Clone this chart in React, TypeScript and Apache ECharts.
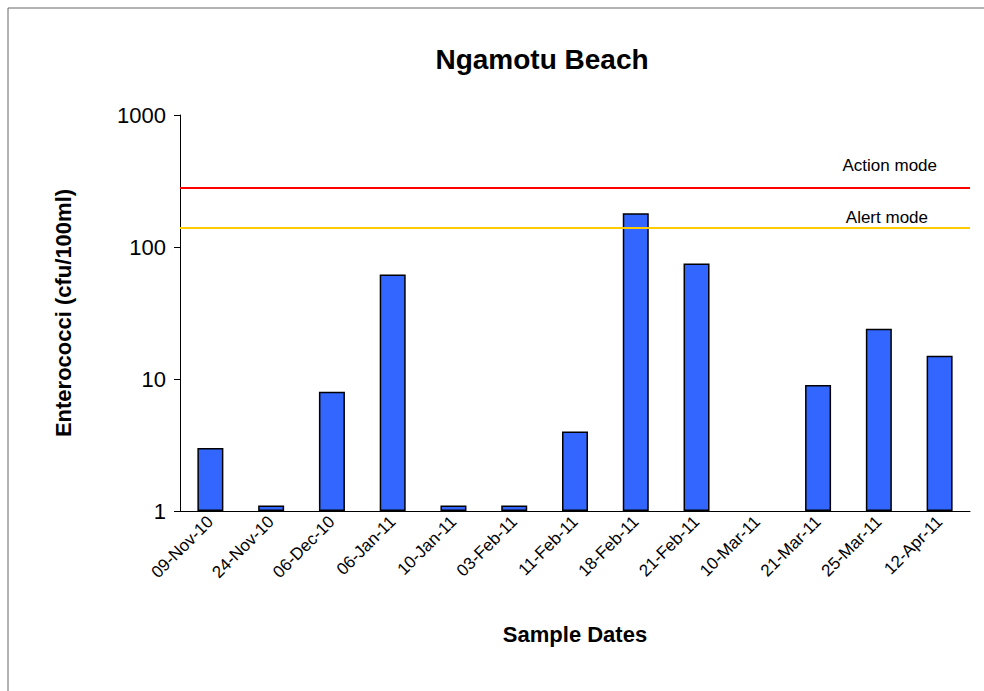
import React, { useEffect, useRef } from 'react'
import * as echarts from 'echarts'

const dates = ['09-Nov-10', '24-Nov-10', '06-Dec-10', '06-Jan-11', '10-Jan-11', '03-Feb-11', '11-Feb-11', '18-Feb-11', '21-Feb-11', '10-Mar-11', '21-Mar-11', '25-Mar-11', '12-Apr-11']
const counts = [3, 1.1, 8, 62, 1.1, 1.1, 4, 180, 75, null, 9, 24, 15]
const actionLevel = 280
const alertLevel = 140

const App = () => {
  const chartRef = useRef(null)

  useEffect(() => {
    const chart = echarts.init(chartRef.current, null, { renderer: 'svg' })
    const font = 'Liberation Sans, Arial, sans-serif'
    chart.setOption({
      animation: false,
      textStyle: { fontFamily: font },
      title: {
        text: 'Ngamotu Beach',
        left: 537,
        textAlign: 'center',
        top: 40,
        textStyle: { fontSize: 28, fontWeight: 'bold', color: '#000', fontFamily: font },
      },
      graphic: [
        { type: 'rect', shape: { x: 8, y: 8, width: 990, height: 690 }, style: { fill: 'none', stroke: '#666', lineWidth: 1 } },
      ],
      grid: { left: 180, right: 14, top: 115, bottom: 180 },
      xAxis: {
        type: 'category',
        data: dates,
        name: 'Sample Dates',
        nameLocation: 'middle',
        nameGap: 112,
        nameTextStyle: { fontSize: 22, fontWeight: 'bold', color: '#000' },
        axisLine: { lineStyle: { color: '#000' } },
        axisTick: { show: false },
        axisLabel: { rotate: 45, fontSize: 17, color: '#000', interval: 0 },
      },
      yAxis: {
        type: 'log',
        logBase: 10,
        min: 1,
        max: 1000,
        name: 'Enterococci (cfu/100ml)',
        nameLocation: 'middle',
        nameGap: 106,
        nameTextStyle: { fontSize: 22, fontWeight: 'bold', color: '#000' },
        axisLine: { show: true, lineStyle: { color: '#000' } },
        axisTick: { show: true, length: 6, inside: false, lineStyle: { color: '#000' } },
        axisLabel: { fontSize: 22, color: '#000', margin: 14, formatter: (v) => String(Math.round(v)) },
        splitLine: { show: false },
      },
      series: [
        {
          type: 'bar',
          data: counts,
          barWidth: 26,
          itemStyle: { color: '#3366ff', borderColor: '#000', borderWidth: 1.5 },
          markLine: {
            symbol: 'none',
            silent: true,
            label: { position: 'insideEndTop', fontSize: 17, color: '#000', distance: [33, 14] },
            data: [
              { yAxis: actionLevel, name: 'Action mode', lineStyle: { color: '#ff0000', width: 2, type: 'solid' }, label: { formatter: 'Action mode' } },
              { yAxis: alertLevel, name: 'Alert mode', lineStyle: { color: '#ffcc00', width: 2, type: 'solid' }, label: { formatter: 'Alert mode', distance: [42, 2] } },
            ],
          },
        },
      ],
    })
    return () => chart.dispose()
  }, [])

  return <div ref={chartRef} style={{ position: 'absolute', left: 0, top: 0, width: 984, height: 691, background: '#fff' }} />
}

export default App
